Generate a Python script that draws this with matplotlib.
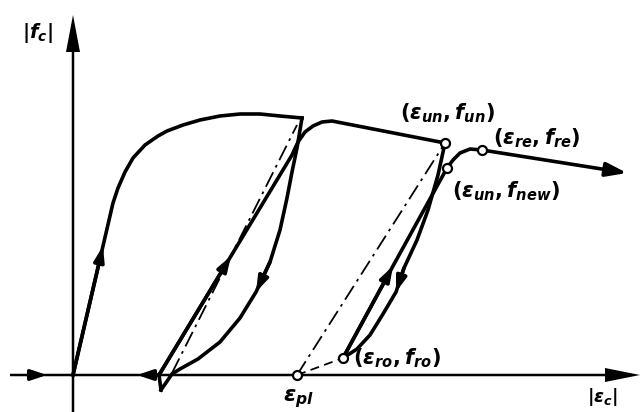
import numpy as np
import matplotlib
matplotlib.use("Agg")
import matplotlib.pyplot as plt
from matplotlib.patches import FancyArrowPatch

plt.rcParams['mathtext.fontset'] = 'custom'
plt.rcParams['mathtext.it'] = 'DejaVu Sans:italic:bold'
plt.rcParams['mathtext.rm'] = 'DejaVu Sans:bold'

# schematic strain / stress points (arbitrary units)
env1_eps = [0.00, 0.30, 0.40, 0.45, 0.52, 0.60, 0.72, 0.85, 0.94, 1.10, 1.27, 1.47, 1.67, 1.87, 2.07, 2.29]
env1_f   = [0.00, 1.29, 1.72, 1.87, 2.03, 2.17, 2.30, 2.39, 2.44, 2.50, 2.55, 2.59, 2.61, 2.61, 2.59, 2.57]

unl1_eps = [2.29, 2.24, 2.19, 2.14, 2.07, 1.97, 1.83, 1.67, 1.47, 1.25, 1.07, 0.99, 0.88]
unl1_f   = [2.57, 2.27, 2.03, 1.77, 1.45, 1.13, 0.83, 0.57, 0.33, 0.16, 0.06, 0.01, -0.15]

rel1_eps = [0.88, 0.86, 1.58, 2.19, 2.25, 2.32, 2.40, 2.49, 2.59, 3.72]
rel1_f   = [-0.15, 0.00, 1.19, 2.20, 2.33, 2.43, 2.49, 2.53, 2.54, 2.32]

unl2_eps = [3.72, 3.65, 3.55, 3.44, 3.31, 3.23, 3.10, 2.97, 2.84, 2.70]
unl2_f   = [2.32, 2.00, 1.65, 1.35, 1.07, 0.83, 0.61, 0.40, 0.26, 0.17]

rel2_eps = [2.70, 3.20, 3.74, 3.80, 3.87, 3.97, 4.09, 5.54]
rel2_f   = [0.17, 1.09, 2.07, 2.15, 2.22, 2.26, 2.25, 2.02]

# plastic strain lines
pl1_eps, pl1_f = [0.99, 2.24], [0.02, 2.50]
pl2_eps, pl2_f = [2.24, 3.72], [0.00, 2.32]
ro_eps, ro_f = [2.24, 2.70], [0.00, 0.17]

# marked points
pt_eps = [3.72, 3.74, 4.09, 2.70, 2.24]
pt_f   = [2.32, 2.07, 2.25, 0.17, 0.00]

fig = plt.figure(figsize=(6.4, 4.12), dpi=100)
ax = fig.add_axes([0, 0, 1, 1])
ax.set_xlim(-0.73, 5.67)
ax.set_ylim(-0.37, 3.75)
ax.axis('off')

lw = 2.6

# axes with arrow heads
ax.arrow(0, -0.37, 0, 3.97, width=0.025, head_width=0.14, head_length=0.37,
         length_includes_head=True, color='k', lw=0)
ax.arrow(-0.63, 0, 6.30, 0, width=0.025, head_width=0.14, head_length=0.35,
         length_includes_head=True, color='k', lw=0)

ax.plot(env1_eps, env1_f, color='k', lw=lw, solid_joinstyle='miter')
ax.plot(unl1_eps, unl1_f, color='k', lw=lw)
ax.plot(rel1_eps, rel1_f, color='k', lw=lw)
ax.plot(unl2_eps, unl2_f, color='k', lw=lw)
ax.plot(rel2_eps[:-1], rel2_f[:-1], color='k', lw=lw)

ax.plot(pl1_eps, pl1_f, color='k', lw=1.3, dashes=(9, 3, 1.5, 3))
ax.plot(pl2_eps, pl2_f, color='k', lw=1.3, dashes=(9, 3, 1.5, 3))
ax.plot(ro_eps, ro_f, color='k', lw=1.3, dashes=(5, 3))


def head(x, y, i, ms=10):
    a = FancyArrowPatch((x[i - 1], y[i - 1]), (x[i], y[i]),
                        arrowstyle='-|>,head_length=0.9,head_width=0.3',
                        mutation_scale=ms, color='k', lw=lw,
                        shrinkA=0, shrinkB=0, zorder=3)
    ax.add_patch(a)


head(env1_eps, env1_f, 1)
head(unl1_eps, unl1_f, 6)
head(rel1_eps, rel1_f, 2)
head(unl2_eps, unl2_f, 5)
head(rel2_eps, rel2_f, 1)
head(rel2_eps, rel2_f, 7, ms=14)

# loading direction marks on the strain axis
head([-0.45, -0.26], [0, 0], 1)
head([0.85, 0.64], [0, 0], 1)

ax.plot(pt_eps, pt_f, 'o', ms=6.5, mfc='white', mec='k', mew=1.6, zorder=4)

fs = 14
ax.text(-0.51, 3.42, r'$|f_c|$', fontsize=fs, va='center', ha='left')
ax.text(3.27, 2.50, r'$(\varepsilon_{un},f_{un})$', fontsize=fs + 1, va='bottom', ha='left')
ax.text(4.20, 2.25, r'$(\varepsilon_{re},f_{re})$', fontsize=fs + 1, va='bottom', ha='left')
ax.text(3.79, 1.72, r'$(\varepsilon_{un},f_{new})$', fontsize=fs + 1, va='bottom', ha='left')
ax.text(2.80, 0.05, r'$(\varepsilon_{ro},f_{ro})$', fontsize=fs + 1, va='bottom', ha='left')
ax.text(2.10, -0.35, r'$\varepsilon_{pl}$', fontsize=fs + 2, va='bottom', ha='left')
ax.text(5.14, -0.11, r'$|\varepsilon_c|$', fontsize=fs - 1, va='top', ha='left')

fig.savefig("out.png", dpi=100)
